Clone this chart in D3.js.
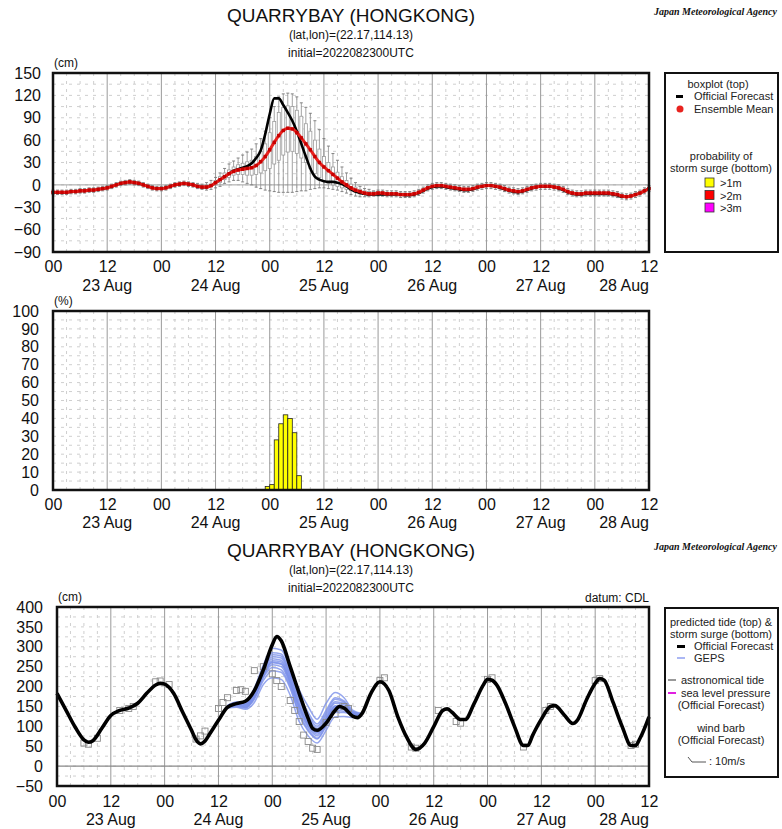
<!DOCTYPE html>
<html>
<head>
<meta charset="utf-8">
<script src="https://cdn.jsdelivr.net/npm/d3@7"></script>
<style>
body { margin: 0; background: #fff; }
svg { display: block; font-family: "Liberation Sans", Arial, sans-serif; }
</style>
</head>
<body>
<div id="chart"></div>
<script>
// ---- data (hours after 2022-08-23 00UTC) ----
const dateLabels = ["23 Aug", "24 Aug", "25 Aug", "26 Aug", "27 Aug", "28 Aug"];
const dateHours = [12, 36, 60, 84, 108, 132];

// storm surge, hourly 0..132 (cm)
const ensMean = [
  -10,-10,-10,-10,-9,-9,-8,-8,-7,-7,-6,-5,
  -4,-2,0,2,3,4,3,2,0,-2,-4,-5,
  -5,-4,-2,0,1,2,1,0,-2,-3,-3,-1,
  3,7,11,15,18,20,21,22,23,26,31,38,
  47,57,66,73,76,75,70,63,55,47,38,30,
  24,19,14,9,4,0,-4,-7,-9,-11,-12,-12,
  -11,-11,-12,-12,-12,-13,-13,-13,-12,-10,-7,-4,
  -2,-1,-1,-2,-3,-4,-5,-6,-6,-5,-3,-2,
  -1,-1,-2,-3,-5,-7,-8,-9,-8,-6,-4,-3,
  -2,-2,-2,-3,-4,-6,-9,-11,-12,-12,-11,-11,
  -11,-11,-11,-11,-12,-13,-15,-16,-15,-13,-11,-8,-5
];
const officialSurge = [
  -10,-10,-10,-10,-9,-9,-8,-8,-7,-7,-6,-5,
  -4,-2,0,2,3,4,3,2,0,-2,-4,-5,
  -5,-4,-2,0,1,2,1,0,-2,-3,-3,-1,
  3,7,11,15,19,21,23,25,29,36,46,68,
  95,116,116,107,97,86,72,55,38,22,11,7,
  5,4,4,3,1,-2,-6,-9,-11,-12,-13,-13,
  -13,-13,-13,-13,-13,-13,-14,-14,-13,-11,-8,-5,
  -3,-2,-2,-3,-4,-5,-6,-7,-7,-6,-4,-2,
  -1,-1,-2,-4,-6,-8,-9,-10,-9,-7,-5,-3,
  -2,-2,-2,-3,-5,-7,-10,-12,-13,-13,-12,-12,
  -12,-12,-12,-12,-13,-14,-16,-16,-15,-13,-11,-8,-5
];
// ensemble boxplots, hourly: whisker low, Q1, Q3, whisker high
const boxLo = [
  -13,-13,-13,-13,-12,-12,-11,-11,-10,-10,-9,-8,
  -7,-5,-3,-1,0,1,0,-1,-3,-5,-7,-8,
  -8,-7,-5,-3,-2,-1,-2,-3,-5,-6,-7,-6,
  -4,-2,2,4,6,6,4,2,0,-3,-5,-7,
  -8,-9,-10,-10,-10,-10,-9,-8,-8,-6,-5,-4,
  -4,-5,-6,-7,-9,-11,-13,-15,-16,-16,-16,-15,
  -15,-15,-16,-16,-16,-17,-17,-17,-16,-14,-11,-8,
  -6,-5,-5,-6,-7,-8,-9,-10,-10,-9,-7,-6,
  -5,-5,-6,-7,-9,-11,-12,-13,-12,-10,-8,-7,
  -6,-6,-6,-7,-8,-10,-13,-15,-16,-16,-15,-15,
  -15,-15,-15,-15,-16,-17,-19,-20,-19,-17,-15,-12,-9
];
const boxQ1 = [
  -11,-11,-11,-11,-10,-10,-9,-9,-8,-8,-7,-6,
  -5,-3,-1,1,2,3,2,1,-1,-3,-5,-6,
  -6,-5,-3,-1,0,1,0,-1,-3,-4,-4,-2,
  0,3,7,10,13,14,14,13,13,14,16,19,
  22,28,33,40,44,45,42,36,30,22,15,10,
  5,2,0,-2,-4,-6,-8,-10,-12,-13,-14,-14,
  -12,-12,-13,-13,-13,-14,-14,-14,-13,-11,-8,-5,
  -3,-2,-2,-3,-4,-5,-6,-7,-7,-6,-4,-3,
  -2,-2,-3,-4,-6,-8,-9,-10,-9,-7,-5,-4,
  -3,-3,-3,-4,-5,-7,-10,-12,-13,-13,-12,-12,
  -12,-12,-12,-12,-13,-14,-16,-17,-16,-14,-12,-9,-6
];
const boxQ3 = [
  -9,-9,-9,-9,-8,-8,-7,-7,-6,-6,-5,-4,
  -3,-1,1,3,4,5,4,3,1,-1,-3,-4,
  -4,-3,-1,1,2,3,2,1,-1,-2,-1,1,
  6,11,16,20,24,27,29,31,33,38,45,55,
  70,85,97,104,106,105,100,92,82,72,60,48,
  38,30,24,17,11,6,1,-3,-6,-8,-9,-9,
  -9,-9,-10,-10,-10,-11,-11,-11,-10,-8,-5,-2,
  0,1,1,0,-1,-2,-3,-4,-4,-3,-1,0,
  1,1,0,-1,-3,-5,-6,-7,-6,-4,-2,-1,
  0,0,0,-1,-2,-4,-7,-9,-10,-10,-9,-9,
  -9,-9,-9,-9,-10,-11,-13,-14,-13,-11,-9,-6,-3
];
const boxHi = [
  -7,-7,-7,-7,-6,-6,-5,-5,-4,-4,-3,-2,
  -1,1,3,5,6,7,6,5,3,1,-1,-2,
  -2,-1,1,3,4,5,4,3,2,1,3,6,
  10,16,22,28,32,36,40,44,48,55,62,72,
  90,105,118,122,123,122,118,110,104,96,86,74,
  62,52,42,33,24,16,9,3,-2,-5,-6,-8,
  -7,-7,-8,-8,-8,-9,-9,-9,-8,-6,-3,0,
  2,3,3,2,1,0,-1,-2,-2,-1,1,2,
  3,3,2,1,-1,-3,-4,-5,-4,-2,0,1,
  2,2,2,1,0,-2,-5,-7,-8,-8,-7,-7,
  -7,-7,-7,-7,-8,-9,-11,-12,-11,-9,-7,-4,-1
];

// probability of surge > 1m (%), hourly bars
const probHours = [47, 48, 49, 50, 51, 52, 53, 54];
const prob1m = [2, 3, 28, 37, 42, 40, 32, 8];

// predicted tide, official forecast (cm, CDL)
const tideHours = [0,2,4,6,7,8,10,12,14,16,18,20,22,23,24,26,28,30,31,32,33,34,36,38,40,42,44,46,48,49,50,52,54,56,57,58,60,62,63,64,66,67,68,70,72,74,76,78,80,82,84,86,87,88,90,91,93,95,96,97,98,100,102,104,105,106,108,110,111,113,115,116,118,120,121,122,124,126,128,129,130,132];
const tideValues = [183,141,99,66,60,64,95,127,140,146,158,183,204,208,206,183,136,90,66,56,63,80,115,148,157,163,190,242,305,326,315,250,183,120,95,90,108,140,150,146,125,122,132,183,212,190,124,72,42,58,99,140,144,136,117,117,157,203,218,216,205,158,100,52,52,76,118,150,152,130,107,115,165,208,220,216,160,100,52,52,70,124];

// GEPS members (cm)
const gepsHours = [38,40,42,44,46,48,50,52,54,56,58,60,62,64,66,68];
const gepsMembers = [
  [146,148,143,160,205,222,218,178,112,76,58,90,124,125,122,126],
  [148,152,147,168,215,240,236,195,128,88,68,100,135,135,128,127],
  [149,155,150,175,225,255,250,205,140,98,76,108,145,142,130,128],
  [150,157,152,180,232,265,262,215,152,108,85,118,152,150,133,129],
  [151,159,155,186,240,275,272,225,165,122,95,128,162,158,135,130],
  [152,160,157,192,248,285,282,235,178,135,106,140,172,164,137,131],
  [152,161,159,196,254,296,292,246,192,150,118,158,185,172,140,132],
  [148,150,146,171,222,248,242,200,132,92,70,104,140,138,129,127],
  [150,158,154,184,236,270,266,220,158,114,90,122,158,154,134,129],
  [147,153,149,173,228,260,256,210,146,102,80,112,148,146,131,128],
  [149,156,151,178,230,262,258,212,150,106,84,116,150,148,132,128],
  [151,160,156,189,244,280,277,230,172,128,100,134,168,161,136,130]
];
// open square marks (hour, cm)
const markHours = [6,7,9,14,16,17,22,23,25,31,32,33,36,37,38,40,41,42,44,46,48,49,50,52,53,54,55,56,57,58,60,62,64,65,72,73,79,80,85,89,90,96,97,104,109,110,120,121,128,129];
const markValues = [58,55,70,140,145,150,212,214,205,68,76,88,145,160,172,190,192,188,240,250,232,215,200,165,140,112,78,62,45,42,110,130,150,145,215,222,48,45,140,112,108,218,222,48,140,150,215,220,52,55];

// ---- layout ----
const W = 782, H = 829;
const svg = d3.select("#chart").append("svg").attr("width", W).attr("height", H);

function makePanel(p) {
  const x = d3.scaleLinear().domain([0, 132]).range([p.left, p.right]);
  const y = d3.scaleLinear().domain(p.domain).range([p.bottom, p.top]);
  const g = svg.append("g");

  // light dashed grid
  const grid = g.append("g").attr("stroke", "#cfcfcf").attr("stroke-width", 1).attr("stroke-dasharray", "3,5");
  d3.range(3, 132, 3).filter(h => h % 12 !== 0).forEach(h => {
    grid.append("line").attr("x1", x(h)).attr("x2", x(h)).attr("y1", p.top).attr("y2", p.bottom);
  });
  d3.range(p.domain[0] + p.grid, p.domain[1], p.grid).forEach(v => {
    grid.append("line").attr("x1", p.left).attr("x2", p.right).attr("y1", y(v)).attr("y2", y(v));
  });
  // 12-hourly solid lines
  d3.range(12, 132, 12).forEach(h => {
    g.append("line").attr("x1", x(h)).attr("x2", x(h)).attr("y1", p.top).attr("y2", p.bottom)
      .attr("stroke", "#9a9a9a").attr("stroke-width", 1);
  });

  // axes
  const xa = g.append("g").attr("transform", `translate(0,${p.bottom})`)
    .call(d3.axisBottom(x).tickValues(d3.range(0, 133, 12))
      .tickFormat(h => h % 24 === 0 ? "00" : "12").tickSize(0).tickPadding(p.xpad));
  xa.select(".domain").remove();
  xa.selectAll("text").attr("font-size", 16).attr("fill", "#111").attr("font-family", "Liberation Sans, Arial, sans-serif");

  const ya = g.append("g").attr("transform", `translate(${p.left},0)`)
    .call(d3.axisLeft(y).tickValues(d3.range(p.domain[0], p.domain[1] + 1, p.step))
      .tickFormat(v => v < 0 ? "\u2212" + Math.abs(v) : v).tickSize(0).tickPadding(p.ypad));
  ya.select(".domain").remove();
  ya.selectAll("text").attr("font-size", 16).attr("fill", "#111").attr("font-family", "Liberation Sans, Arial, sans-serif");

  dateLabels.forEach((d, i) => {
    const last = i === dateLabels.length - 1;
    g.append("text").attr("x", last ? p.right : x(dateHours[i])).attr("y", p.dateY)
      .attr("text-anchor", last ? "end" : "middle").attr("font-size", 16).attr("fill", "#111").text(d);
  });

  g.append("text").attr("x", p.left + 1).attr("y", p.top - 6).attr("font-size", 12).attr("fill", "#111").text(p.unit);

  p.x = x; p.y = y; p.g = g;
  return p;
}

function frame(p) {
  p.g.append("rect").attr("x", p.left).attr("y", p.top)
    .attr("width", p.right - p.left).attr("height", p.bottom - p.top)
    .attr("fill", "none").attr("stroke", "#111").attr("stroke-width", 2.5);
}

function titles(y0, datum) {
  const cx = 351;
  svg.append("text").attr("x", cx).attr("y", y0).attr("text-anchor", "middle").attr("font-size", 19).attr("fill", "#111").text("QUARRYBAY (HONGKONG)");
  svg.append("text").attr("x", cx).attr("y", y0 + 17).attr("text-anchor", "middle").attr("font-size", 12).attr("fill", "#111").text("(lat,lon)=(22.17,114.13)");
  svg.append("text").attr("x", cx).attr("y", y0 + 35).attr("text-anchor", "middle").attr("font-size", 12).attr("fill", "#111").text("initial=2022082300UTC");
  svg.append("text").attr("x", 777).attr("y", y0 - 7).attr("text-anchor", "end")
    .attr("font-family", "Liberation Serif, Times New Roman, serif").attr("font-style", "italic").attr("font-weight", "bold")
    .attr("font-size", 10).attr("fill", "#111").text("Japan Meteorological Agency");
  if (datum) {
    svg.append("text").attr("x", 649).attr("y", y0 + 45).attr("text-anchor", "end").attr("font-size", 12).attr("fill", "#111").text(datum);
  }
}

titles(22, null);
titles(557, "datum: CDL");

// ---- top panel: storm surge ----
const surgeP = makePanel({left: 53, right: 649, top: 73, bottom: 252, domain: [-90, 150], step: 30, grid: 15,
  xpad: 9, ypad: 12, dateY: 291, unit: "(cm)"});
surgeP.g.append("line").attr("x1", surgeP.left).attr("x2", surgeP.right).attr("y1", surgeP.y(0)).attr("y2", surgeP.y(0))
  .attr("stroke", "#a0a0a0").attr("stroke-width", 1);

const hrs = d3.range(0, 133);
const boxes = surgeP.g.append("g");
hrs.forEach(h => {
  const cx = surgeP.x(h);
  boxes.append("line").attr("x1", cx).attr("x2", cx).attr("y1", surgeP.y(boxHi[h])).attr("y2", surgeP.y(boxQ3[h]))
    .attr("stroke", "#8a8a8a").attr("stroke-width", 0.8);
  boxes.append("line").attr("x1", cx).attr("x2", cx).attr("y1", surgeP.y(boxQ1[h])).attr("y2", surgeP.y(boxLo[h]))
    .attr("stroke", "#8a8a8a").attr("stroke-width", 0.8);
  boxes.append("rect").attr("x", cx - 1.5).attr("width", 3)
    .attr("y", surgeP.y(boxQ3[h])).attr("height", Math.max(0.5, surgeP.y(boxQ1[h]) - surgeP.y(boxQ3[h])))
    .attr("fill", "#fff").attr("stroke", "#9a9a9a").attr("stroke-width", 0.8);
  [boxHi[h], boxLo[h]].forEach(v => {
    boxes.append("line").attr("x1", cx - 1.5).attr("x2", cx + 1.5).attr("y1", surgeP.y(v)).attr("y2", surgeP.y(v))
      .attr("stroke", "#777").attr("stroke-width", 0.9);
  });
});

const surgeLine = d3.line().x((d, i) => surgeP.x(i)).y(d => surgeP.y(d)).curve(d3.curveMonotoneX);
surgeP.g.append("path").datum(officialSurge).attr("fill", "none").attr("stroke", "#000").attr("stroke-width", 2.6).attr("d", surgeLine);
surgeP.g.append("path").datum(ensMean).attr("fill", "none").attr("stroke", "#e8231f").attr("stroke-width", 3).attr("d", surgeLine);
surgeP.g.selectAll(".mdot").data(ensMean).enter().append("rect")
  .attr("x", (d, i) => surgeP.x(i) - 1.7).attr("y", d => surgeP.y(d) - 1.7).attr("width", 3.4).attr("height", 3.4)
  .attr("fill", "#c80000");
frame(surgeP);

// ---- middle panel: probability ----
const probP = makePanel({left: 53, right: 649, top: 311, bottom: 490, domain: [0, 100], step: 10, grid: 5,
  xpad: 9, ypad: 14, dateY: 528, unit: "(%)"});
probP.g.selectAll(".bar").data(prob1m).enter().append("rect")
  .attr("x", (d, i) => probP.x(probHours[i]))
  .attr("width", (d, i) => probP.x(probHours[i] + 1) - probP.x(probHours[i]))
  .attr("y", d => probP.y(d)).attr("height", d => probP.y(0) - probP.y(d))
  .attr("fill", "#ffff00").attr("stroke", "#222").attr("stroke-width", 0.8);
frame(probP);

// ---- bottom panel: predicted tide ----
const tideP = makePanel({left: 57, right: 649, top: 607, bottom: 786, domain: [-50, 400], step: 50, grid: 25,
  xpad: 10, ypad: 14, dateY: 825, unit: "(cm)"});
tideP.g.append("line").attr("x1", tideP.left).attr("x2", tideP.right).attr("y1", tideP.y(0)).attr("y2", tideP.y(0))
  .attr("stroke", "#888").attr("stroke-width", 1.2);

const gepsLine = d3.line().x((d, i) => tideP.x(gepsHours[i])).y(d => tideP.y(d)).curve(d3.curveMonotoneX);
gepsMembers.forEach(m => {
  tideP.g.append("path").datum(m).attr("fill", "none").attr("stroke", "#7b90ea").attr("stroke-opacity", 0.8)
    .attr("stroke-width", 1.5).attr("d", gepsLine);
});
tideP.g.selectAll(".mk").data(markValues).enter().append("rect")
  .attr("x", (d, i) => tideP.x(markHours[i]) - 3).attr("y", d => tideP.y(d) - 3).attr("width", 6).attr("height", 6)
  .attr("fill", "none").attr("stroke", "#8a8a8a").attr("stroke-width", 0.9);
const tideLine = d3.line().x((d, i) => tideP.x(tideHours[i])).y(d => tideP.y(d)).curve(d3.curveMonotoneX);
tideP.g.append("path").datum(tideValues).attr("fill", "none").attr("stroke", "#000").attr("stroke-width", 3.6).attr("d", tideLine);
frame(tideP);

// ---- legends ----
function legendBox(x0, y0, x1, y1) {
  svg.append("rect").attr("x", x0).attr("y", y0).attr("width", x1 - x0).attr("height", y1 - y0)
    .attr("fill", "#fff").attr("stroke", "#111").attr("stroke-width", 2);
}
function ltext(x, y, t, anchor) {
  svg.append("text").attr("x", x).attr("y", y).attr("text-anchor", anchor || "start")
    .attr("font-size", 11).attr("fill", "#222").text(t);
}

legendBox(665, 73, 778, 252);
ltext(718, 88, "boxplot (top)", "middle");
svg.append("rect").attr("x", 676).attr("y", 95).attr("width", 7).attr("height", 3).attr("fill", "#000");
ltext(694, 100, "Official Forecast");
svg.append("circle").attr("cx", 680).attr("cy", 109).attr("r", 3.5).attr("fill", "#e8231f");
ltext(694, 113, "Ensemble Mean");
ltext(721, 160, "probability of", "middle");
ltext(721, 172, "storm surge (bottom)", "middle");
[["#ffff00", ">1m"], ["#ff0000", ">2m"], ["#ff00ff", ">3m"]].forEach((d, i) => {
  svg.append("rect").attr("x", 705).attr("y", 178 + i * 12.5).attr("width", 9).attr("height", 9)
    .attr("fill", d[0]).attr("stroke", "#333").attr("stroke-width", 0.8);
  ltext(720, 187 + i * 12.5, d[1]);
});

legendBox(665, 608, 778, 777);
ltext(721, 626, "predicted tide (top) &", "middle");
ltext(721, 638, "storm surge (bottom)", "middle");
svg.append("rect").attr("x", 677).attr("y", 645).attr("width", 8).attr("height", 3).attr("fill", "#000");
ltext(694, 650, "Official Forecast");
svg.append("line").attr("x1", 677).attr("x2", 685).attr("y1", 658).attr("y2", 658).attr("stroke", "#8f9ff0").attr("stroke-width", 1.5);
ltext(694, 662, "GEPS");
svg.append("line").attr("x1", 668).attr("x2", 676).attr("y1", 680).attr("y2", 680).attr("stroke", "#777").attr("stroke-width", 1.5);
ltext(681, 684, "astronomical tide");
svg.append("line").attr("x1", 668).attr("x2", 676).attr("y1", 693).attr("y2", 693).attr("stroke", "#e020e0").attr("stroke-width", 2);
ltext(681, 697, "sea level pressure");
ltext(721, 709, "(Official Forecast)", "middle");
ltext(721, 732, "wind barb", "middle");
ltext(721, 744, "(Official Forecast)", "middle");
svg.append("path").attr("d", "M688,757 L692,762 L706,762").attr("fill", "none").attr("stroke", "#555").attr("stroke-width", 1);
ltext(709, 765, ": 10m/s");
</script>
</body>
</html>
